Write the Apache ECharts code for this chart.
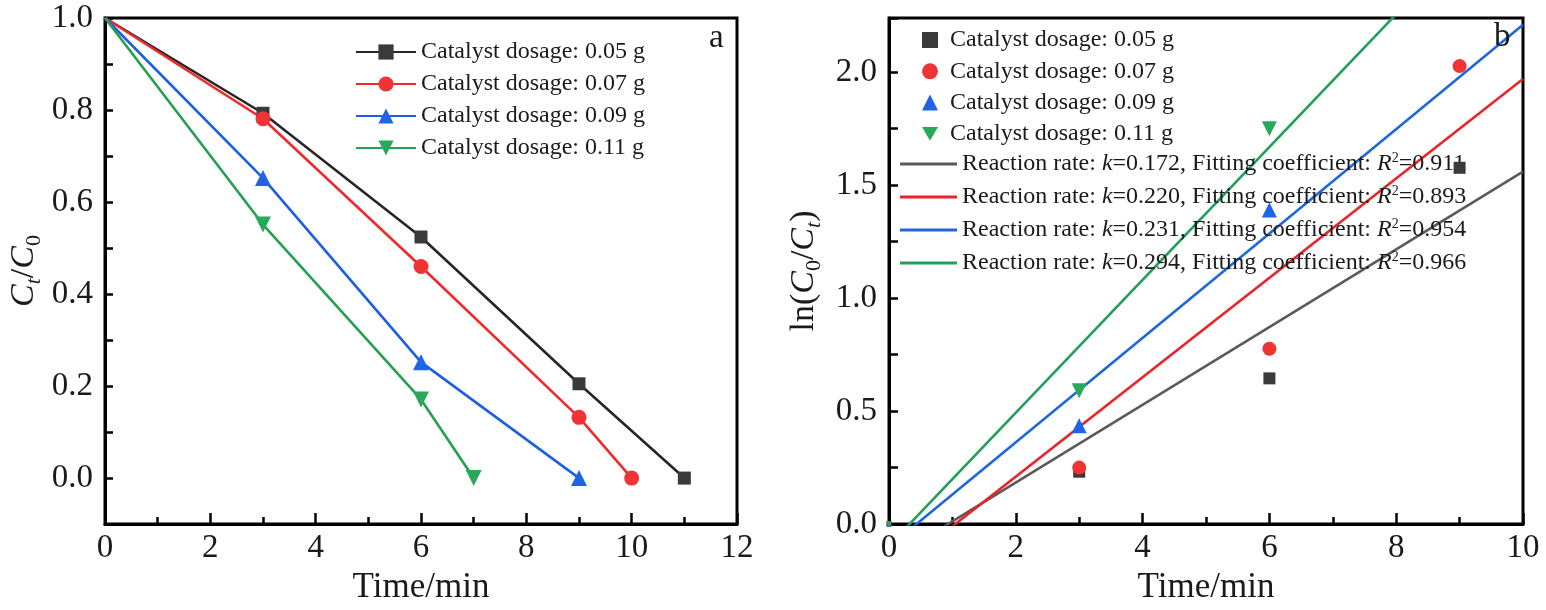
<!DOCTYPE html>
<html>
<head>
<meta charset="utf-8">
<script src="https://cdn.jsdelivr.net/npm/echarts@6/dist/echarts.min.js"></script>
<style>
html,body{margin:0;padding:0;background:#fff;}
#c{width:1546px;height:610px;}
</style>
</head>
<body>
<div id="c"></div>
<script>
// ---------- data ----------
const dosageNames = ['Catalyst dosage: 0.05 g','Catalyst dosage: 0.07 g','Catalyst dosage: 0.09 g','Catalyst dosage: 0.11 g'];
// Panel a: Ct/C0 vs time
const timeA005 = [0, 3, 6, 9, 11];
const ratio005 = [1.0, 0.793, 0.524, 0.205, 0.0];
const timeA007 = [0, 3, 6, 9, 10];
const ratio007 = [1.0, 0.781, 0.460, 0.132, 0.0];
const timeA009 = [0, 3, 6, 9];
const ratio009 = [1.0, 0.652, 0.252, 0.0];
const timeA011 = [0, 3, 6, 7];
const ratio011 = [1.0, 0.551, 0.171, 0.0];
// Panel b: ln(C0/Ct) vs time
const timeB005 = [0, 3, 6, 9];
const ln005 = [0, 0.232, 0.645, 1.577];
const timeB007 = [0, 3, 6, 9];
const ln007 = [0, 0.250, 0.776, 2.027];
const timeB009 = [0, 3, 6];
const ln009 = [0, 0.435, 1.390];
const timeB011 = [0, 3, 6];
const ln011 = [0, 0.590, 1.750];
// Linear fits
const fitK = [0.172, 0.220, 0.231, 0.294];
const fitB = [-0.16, -0.23, -0.10, -0.095];
const fitR2 = ['0.911', '0.893', '0.954', '0.966'];
const fitRange = [0, 10];
// Tick settings
const xTicksA = {min: 0, max: 12, interval: 2};
const yTicksA = {min: -0.1, max: 1.0, interval: 0.1};
const xTicksB = {min: 0, max: 10, interval: 2};
const yTicksB = {min: 0, max: 2.24, interval: 0.25};

// ---------- styles ----------
const FONT = 'Liberation Serif';
const TXT = '#1a1a1a';
const lineColors = ['#262626', '#f02a2a', '#1c5fe3', '#23a052'];
const markColors = ['#3a3a3a', '#f03434', '#1f63e6', '#2aa85a'];
const fitColors = ['#5a5a5a', '#e8242a', '#1f66dd', '#22a05a'];
const downTri = 'path://M0,0 L10,0 L5,8.66 Z';
const symbols = ['rect', 'circle', 'triangle', downTri];
const symSizes = [13, 15, 16, 16];

// first point of each curve sits on the frame corner, where the original clips its marker
function zip(xs, ys, firstStyle) {
  return xs.map((x, i) => i === 0 ? Object.assign({value: [x, ys[i]]}, firstStyle) : [x, ys[i]]);
}

const seriesA = [
  zip(timeA005, ratio005, {symbol: 'none'}), zip(timeA007, ratio007, {symbol: 'none'}),
  zip(timeA009, ratio009, {symbol: 'none'}), zip(timeA011, ratio011, {symbol: 'none'})
];
const seriesB = [
  zip(timeB005, ln005, {symbolSize: 5}), zip(timeB007, ln007, {symbolSize: 5}),
  zip(timeB009, ln009, {symbolSize: 5}), zip(timeB011, ln011, {symbolSize: 6})
];

const series = [];
seriesA.forEach((d, i) => {
  series.push({
    name: dosageNames[i], type: 'line', xAxisIndex: 0, yAxisIndex: 0, data: d,
    symbol: symbols[i], symbolSize: symSizes[i], showAllSymbol: true,
    lineStyle: {color: lineColors[i], width: 2.6},
    itemStyle: {color: markColors[i]},
    z: 3
  });
});
const fitNames = ['fit1', 'fit2', 'fit3', 'fit4'];
fitK.forEach((k, i) => {
  series.push({
    name: fitNames[i], type: 'line', xAxisIndex: 1, yAxisIndex: 1,
    data: fitRange.map(x => [x, k * x + fitB[i]]),
    symbol: 'none', clip: true,
    lineStyle: {color: fitColors[i], width: 2.6},
    itemStyle: {color: fitColors[i]},
    z: 2
  });
});
const scNames = ['sc1', 'sc2', 'sc3', 'sc4'];
seriesB.forEach((d, i) => {
  series.push({
    name: scNames[i], type: 'scatter', xAxisIndex: 1, yAxisIndex: 1, data: d,
    symbol: symbols[i], symbolSize: symSizes[i] - 1,
    itemStyle: {color: markColors[i], opacity: 1},
    z: 4
  });
});

const axisLine = {show: true, onZero: false, lineStyle: {color: '#000', width: 3}};
const labelStyle = {color: TXT, fontFamily: FONT, fontSize: 33};

function yLabelA(v) {
  const n = Math.round(v * 10);
  return (n >= 0 && n % 2 === 0) ? (n / 10).toFixed(1) : '';
}
function yLabelB(v) {
  const n = v * 4;
  const r = Math.round(n);
  return (Math.abs(n - r) < 1e-6 && r % 2 === 0) ? (r / 4).toFixed(1) : '';
}

const richTitle = {
  n: {fontFamily: FONT, fontSize: 34, color: TXT, lineHeight: 42},
  i: {fontFamily: FONT, fontSize: 34, color: TXT, fontStyle: 'italic', lineHeight: 42},
  sub: {fontFamily: FONT, fontSize: 22, color: TXT, lineHeight: 22, verticalAlign: 'bottom'},
  subi: {fontFamily: FONT, fontSize: 22, color: TXT, fontStyle: 'italic', lineHeight: 22, verticalAlign: 'bottom'}
};
const richLegend = {
  n: {fontFamily: FONT, fontSize: 24, color: TXT, lineHeight: 26},
  i: {fontFamily: FONT, fontSize: 24, color: TXT, fontStyle: 'italic', lineHeight: 26},
  sup: {fontFamily: FONT, fontSize: 14, color: TXT, lineHeight: 14, verticalAlign: 'top'}
};

const option = {
  backgroundColor: '#fff',
  animation: false,
  title: [
    {text: 'a', left: 709, top: 22, padding: 0, textStyle: {fontFamily: FONT, fontSize: 33, fontWeight: 'normal', color: TXT}},
    {text: 'b', left: 1494, top: 21, padding: 0, textStyle: {fontFamily: FONT, fontSize: 33, fontWeight: 'normal', color: TXT}}
  ],
  grid: [
    {left: 105, width: 632, top: 18, bottom: 83, show: true, borderColor: '#000', borderWidth: 3, backgroundColor: 'transparent'},
    {left: 889, right: 23, top: 18, bottom: 83, show: true, borderColor: '#000', borderWidth: 3, backgroundColor: 'transparent'}
  ],
  xAxis: [
    {type: 'value', gridIndex: 0, min: xTicksA.min, max: xTicksA.max, interval: xTicksA.interval,
     axisLine: axisLine, splitLine: {show: false},
     axisTick: {show: true, inside: true, length: 11, lineStyle: {color: '#000', width: 2.5}},
     minorTick: {show: true, splitNumber: 2, length: 7, lineStyle: {color: '#000', width: 2.5}},
     axisLabel: Object.assign({margin: 8}, labelStyle),
     name: 'Time/min', nameLocation: 'middle', nameGap: 43,
     nameTextStyle: {fontFamily: FONT, fontSize: 35, color: TXT}},
    {type: 'value', gridIndex: 1, min: xTicksB.min, max: xTicksB.max, interval: xTicksB.interval,
     axisLine: axisLine, splitLine: {show: false},
     axisTick: {show: true, inside: true, length: 11, lineStyle: {color: '#000', width: 2.5}},
     minorTick: {show: true, splitNumber: 2, length: 7, lineStyle: {color: '#000', width: 2.5}},
     axisLabel: Object.assign({margin: 8, showMaxLabel: true}, labelStyle),
     name: 'Time/min', nameLocation: 'middle', nameGap: 43,
     nameTextStyle: {fontFamily: FONT, fontSize: 35, color: TXT}}
  ],
  yAxis: [
    {type: 'value', gridIndex: 0, min: yTicksA.min, max: yTicksA.max, interval: yTicksA.interval,
     axisLine: axisLine, splitLine: {show: false},
     axisTick: {show: true, inside: true, length: 8, lineStyle: {color: '#000', width: 2.5}},
     axisLabel: Object.assign({margin: 12, formatter: yLabelA}, labelStyle),
     name: '{i|C}{subi|t}{n|/}{i|C}{sub|0}', nameLocation: 'middle', nameGap: 60,
     nameTextStyle: {rich: richTitle}},
    {type: 'value', gridIndex: 1, min: yTicksB.min, max: yTicksB.max, interval: yTicksB.interval,
     axisLine: axisLine, splitLine: {show: false},
     axisTick: {show: true, inside: true, length: 9, lineStyle: {color: '#000', width: 2.5}},
     axisLabel: Object.assign({margin: 12, formatter: yLabelB}, labelStyle),
     name: '{n|ln(}{i|C}{sub|0}{n|/}{i|C}{subi|t}{n|)}', nameLocation: 'middle', nameGap: 64,
     nameTextStyle: {rich: richTitle}}
  ],
  legend: [
    {data: dosageNames, orient: 'vertical', left: 355, top: 39, padding: 0, itemGap: 6,
     itemWidth: 60, itemHeight: 19, selectedMode: false,
     textStyle: {fontFamily: FONT, fontSize: 24, color: TXT, lineHeight: 26}},
    {data: scNames, orient: 'vertical', left: 922, top: 27, padding: 0, itemGap: 5.3,
     itemWidth: 16, itemHeight: 16, selectedMode: false,
     formatter: function (name) { return dosageNames[scNames.indexOf(name)]; },
     textStyle: {fontFamily: FONT, fontSize: 24, color: TXT, lineHeight: 26, padding: [0, 0, 0, 7]}},
    {data: fitNames, orient: 'vertical', left: 900, top: 151, padding: 0, itemGap: 7,
     itemWidth: 57, itemHeight: 3, icon: 'rect', selectedMode: false,
     formatter: function (name) {
       const i = fitNames.indexOf(name);
       return '{n|Reaction rate: }{i|k}{n|=' + fitK[i].toFixed(3) + ', Fitting coefficient: }{i|R}{sup|2}{n|=' + fitR2[i] + '}';
     },
     textStyle: {fontFamily: FONT, fontSize: 24, color: TXT, lineHeight: 26, rich: richLegend}}
  ],
  series: series
};

const chart = echarts.init(document.getElementById('c'), null, {renderer: 'canvas'});
chart.setOption(option);
</script>
</body>
</html>
